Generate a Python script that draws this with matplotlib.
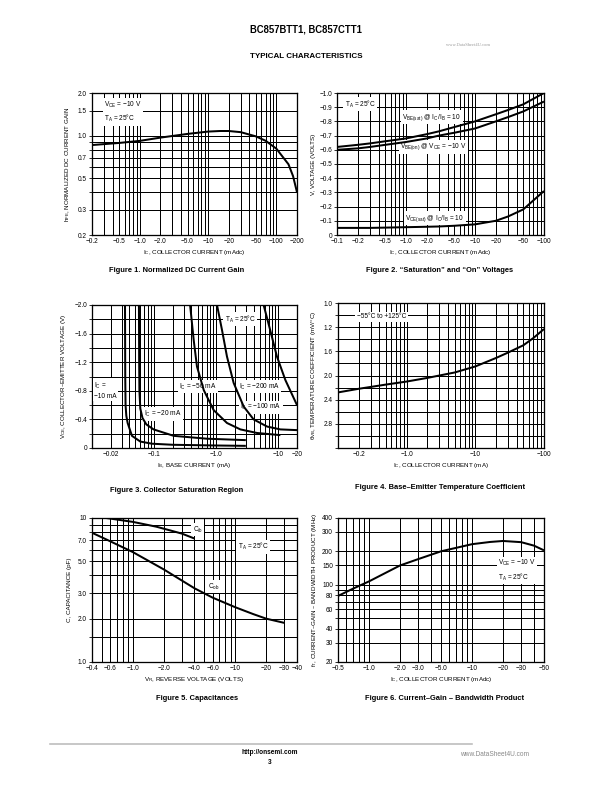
import matplotlib
matplotlib.use("Agg")
import matplotlib.pyplot as plt
from matplotlib.ticker import FixedLocator, NullFormatter

plt.rcParams['font.family'] = ['Liberation Sans Narrow', 'Liberation Sans', 'DejaVu Sans']
plt.rcParams['mathtext.default'] = 'regular'

# Figure 1: normalized DC current gain
fig1_ic = [0.2, 0.5, 1.0, 2.0, 5.0, 10, 15, 20, 30, 50, 70, 100, 150, 175, 200]
fig1_hfe = [0.86, 0.89, 0.92, 0.97, 1.03, 1.07, 1.08, 1.08, 1.06, 0.99, 0.92, 0.81, 0.63, 0.52, 0.40]

# Figure 2: saturation and on voltages (magnitudes, volts)
fig2_ic = [0.1, 0.2, 0.3, 0.5, 1.0, 2.0, 3.0, 5.0, 10, 20, 30, 50, 100]
fig2_vbe_sat = [0.62, 0.635, 0.645, 0.66, 0.68, 0.71, 0.73, 0.76, 0.80, 0.85, 0.88, 0.92, 1.0]
fig2_vbe_on = [0.60, 0.61, 0.62, 0.635, 0.655, 0.68, 0.70, 0.72, 0.75, 0.80, 0.83, 0.87, 0.94]
fig2_vce_sat = [0.05, 0.05, 0.05, 0.052, 0.055, 0.058, 0.06, 0.065, 0.075, 0.10, 0.13, 0.18, 0.31]

# Figure 3: collector saturation region (IB mA, VCE V)
fig3_ib_10 = [0.0340, 0.0343, 0.0347, 0.0357, 0.0375, 0.044, 0.060, 0.0925, 0.2, 1.0, 3.0]
fig3_vce_10 = [2.0, 1.0, 0.6, 0.45, 0.35, 0.17, 0.09, 0.06, 0.045, 0.035, 0.03]
fig3_ib_20 = [0.057, 0.0575, 0.058, 0.060, 0.065, 0.075, 0.098, 0.207, 0.71, 3.0]
fig3_vce_20 = [2.0, 1.2, 0.8, 0.55, 0.42, 0.33, 0.26, 0.17, 0.13, 0.11]
fig3_ib_50 = [0.38, 0.434, 0.49, 0.63, 0.91, 1.49, 2.45, 4.54, 10.8]
fig3_vce_50 = [2.0, 1.51, 1.14, 0.81, 0.53, 0.35, 0.26, 0.21, 0.18]
fig3_ib_100 = [1.03, 1.24, 1.49, 1.91, 2.77, 4.0, 6.6, 10.8, 20]
fig3_vce_100 = [2.0, 1.65, 1.28, 0.91, 0.58, 0.40, 0.30, 0.26, 0.25]
fig3_ib_200 = [5.8, 7.4, 9.5, 13, 20]
fig3_vce_200 = [2.0, 1.65, 1.28, 0.95, 0.60]

# Figure 4: base-emitter temperature coefficient (mV/°C)
fig4_ic = [0.1, 0.2, 0.5, 1.0, 2.0, 5.0, 10, 20, 30, 50, 70, 100]
fig4_theta = [2.28, 2.22, 2.15, 2.10, 2.04, 1.95, 1.85, 1.71, 1.62, 1.50, 1.38, 1.23]

# Figure 5: capacitances (pF)
fig5_vr_cib = [0.55, 1.0, 1.7, 3.0, 4.0]
fig5_cib = [10.0, 9.4, 8.7, 7.8, 7.2]
fig5_vr_cob = [0.4, 0.6, 1.0, 2.0, 4.0, 6.0, 10, 15, 20, 30]
fig5_cob = [7.9, 6.9, 5.8, 4.4, 3.25, 2.8, 2.4, 2.15, 2.0, 1.87]

# Figure 6: current-gain bandwidth product (MHz)
fig6_ic = [0.5, 0.7, 1.0, 2.0, 3.0, 5.0, 10, 15, 20, 30, 40, 50]
fig6_ft = [79, 92, 107, 149, 170, 200, 232, 243, 248, 242, 225, 204]

W, H = 612, 792
fig = plt.figure(figsize=(W / 72, H / 72), dpi=72)

TICK_FS = 6.5
LAB_FS = 6.3
ANN_FS = 6.5


def log_lines(lo, hi):
    vals = []
    for e in range(-3, 4):
        for m in range(1, 10):
            v = round(m * 10 ** e, 6)
            if lo * 0.999 <= v <= hi * 1.001:
                vals.append(v)
    return vals


def make_axes(l, t, r, b):
    return fig.add_axes([l / W, 1 - b / H, (r - l) / W, (b - t) / H])


def style(ax, xlim, ylim, xt, xl, yt, yl, xgrid, ygrid, ylog=False):
    ax.set_xscale('log')
    if ylog:
        ax.set_yscale('log')
    ax.set_xlim(*xlim)
    ax.set_ylim(*ylim)
    ax.xaxis.set_major_locator(FixedLocator(xt))
    ax.set_xticklabels(xl)
    ax.yaxis.set_major_locator(FixedLocator(yt))
    ax.set_yticklabels(yl)
    ax.xaxis.set_minor_locator(FixedLocator(xgrid))
    ax.yaxis.set_minor_locator(FixedLocator(ygrid))
    ax.xaxis.set_minor_formatter(NullFormatter())
    ax.yaxis.set_minor_formatter(NullFormatter())
    for v in xgrid:
        ax.axvline(v, color='black', lw=1.0, zorder=1, snap=True)
    for v in ygrid:
        ax.axhline(v, color='black', lw=1.0, zorder=1, snap=True)
    ax.tick_params(axis='x', which='both', length=0, pad=3, labelsize=TICK_FS)
    ax.tick_params(axis='y', which='both', direction='out', length=3, width=0.8,
                   pad=2, labelsize=TICK_FS)
    for s in ax.spines.values():
        s.set_linewidth(1.3)
        s.set_zorder(3)


def note(ax, x, y, s, ha='center'):
    ax.text(x, y, s, fontsize=ANN_FS, ha=ha, va='center', zorder=4, linespacing=1.4,
            bbox=dict(facecolor='white', edgecolor='none', pad=1.5))


def neg(vals):
    return ['0' if v == '0' else '\u2212' + v for v in vals]


CURVE = dict(color='black', lw=2.0, zorder=5, solid_capstyle='butt')

# ---------------- Figure 1 ----------------
ax1 = make_axes(92, 93, 297, 235)
style(ax1, (0.2, 200), (0.2, 2.0),
      [0.2, 0.5, 1, 2, 5, 10, 20, 50, 100, 200],
      neg(['0.2', '0.5', '1.0', '2.0', '5.0', '10', '20', '50', '100', '200']),
      [0.2, 0.3, 0.5, 0.7, 1.0, 1.5, 2.0],
      ['0.2', '0.3', '0.5', '0.7', '1.0', '1.5', '2.0'],
      log_lines(0.2, 200), [0.2, 0.3, 0.4, 0.5, 0.6, 0.7, 0.8, 0.9, 1.0, 1.5, 2.0],
      ylog=True)
ax1.plot(fig1_ic, fig1_hfe, **CURVE)
note(ax1, 0.3, 1.47, 'V$_{CE}$ = \u221210 V\nT$_A$ = 25\u00b0C', ha='left')
ax1.set_xlabel('I$_C$, COLLECTOR CURRENT (mAdc)', fontsize=LAB_FS, labelpad=3)
ax1.set_ylabel('h$_{FE}$, NORMALIZED DC CURRENT GAIN', fontsize=LAB_FS, labelpad=6)

# ---------------- Figure 2 ----------------
ax2 = make_axes(337, 93, 544, 235)
y2 = [round(0.1 * i, 1) for i in range(11)]
style(ax2, (0.1, 100), (0, 1.0),
      [0.1, 0.2, 0.5, 1, 2, 5, 10, 20, 50, 100],
      neg(['0.1', '0.2', '0.5', '1.0', '2.0', '5.0', '10', '20', '50', '100']),
      y2, neg(['0'] + ['%.1f' % v for v in y2[1:]]),
      log_lines(0.1, 100), y2)
ax2.plot(fig2_ic, fig2_vbe_sat, **CURVE)
ax2.plot(fig2_ic, fig2_vbe_on, **CURVE)
ax2.plot(fig2_ic, fig2_vce_sat, **CURVE)
note(ax2, 0.13, 0.92, 'T$_A$ = 25\u00b0C', ha='left')
note(ax2, 2.36, 0.83, 'V$_{BE(sat)}$ @ I$_C$/I$_B$ = 10')
note(ax2, 2.5, 0.62, 'V$_{BE(on)}$ @ V$_{CE}$ = \u221210 V')
note(ax2, 2.6, 0.118, 'V$_{CE(sat)}$ @ I$_C$/I$_B$ = 10')
ax2.set_xlabel('I$_C$, COLLECTOR CURRENT (mAdc)', fontsize=LAB_FS, labelpad=3)
ax2.set_ylabel('V, VOLTAGE (VOLTS)', fontsize=LAB_FS, labelpad=3)

# ---------------- Figure 3 ----------------
ax3 = make_axes(92, 305, 297, 448)
y3 = [round(0.2 * i, 1) for i in range(11)]
style(ax3, (0.01, 20), (0, 2.0),
      [0.02, 0.1, 1.0, 10, 20], neg(['0.02', '0.1', '1.0', '10', '20']),
      [0, 0.4, 0.8, 1.2, 1.6, 2.0], neg(['0', '0.4', '0.8', '1.2', '1.6', '2.0']),
      log_lines(0.01, 20), y3)
ax3.plot(fig3_ib_10, fig3_vce_10, **CURVE)
ax3.plot(fig3_ib_20, fig3_vce_20, **CURVE)
ax3.plot(fig3_ib_50, fig3_vce_50, **CURVE)
ax3.plot(fig3_ib_100, fig3_vce_100, **CURVE)
ax3.plot(fig3_ib_200, fig3_vce_200, **CURVE)
note(ax3, 2.42, 1.80, 'T$_A$ = 25\u00b0C')
note(ax3, 0.0108, 0.81, 'I$_C$ =\n\u221210 mA', ha='left')
note(ax3, 0.137, 0.475, 'I$_C$ = \u221220 mA')
note(ax3, 0.51, 0.857, 'I$_C$ = \u221250 mA')
note(ax3, 4.96, 0.857, 'I$_C$ = \u2212200 mA')
note(ax3, 5.26, 0.57, 'I$_C$ = \u2212100 mA')
ax3.set_xlabel('I$_B$, BASE CURRENT (mA)', fontsize=LAB_FS, labelpad=3)
ax3.set_ylabel('V$_{CE}$, COLLECTOR\u2013EMITTER VOLTAGE (V)', fontsize=LAB_FS, labelpad=6)

# ---------------- Figure 4 ----------------
ax4 = make_axes(338, 303, 544, 448)
y4 = [round(0.8 + 0.2 * i, 1) for i in range(13)]
style(ax4, (0.1, 100), (3.2, 0.8),
      [0.2, 1.0, 10, 100], neg(['0.2', '1.0', '10', '100']),
      [0.8, 1.2, 1.6, 2.0, 2.4, 2.8], ['1.0', '1.2', '1.6', '2.0', '2.4', '2.8'],
      log_lines(0.1, 100), y4)
ax4.plot(fig4_ic, fig4_theta, **CURVE)
note(ax4, 0.43, 1.03, '\u221255\u00b0C to +125\u00b0C')
ax4.set_xlabel('I$_C$, COLLECTOR CURRENT (mA)', fontsize=LAB_FS, labelpad=3)
ax4.set_ylabel('\u03b8$_{VB}$, TEMPERATURE COEFFICIENT (mV/\u00b0C)', fontsize=LAB_FS, labelpad=6)

# ---------------- Figure 5 ----------------
ax5 = make_axes(92, 518, 297, 662)
style(ax5, (0.4, 40), (1.0, 10),
      [0.4, 0.6, 1.0, 2.0, 4.0, 6.0, 10, 20, 30, 40],
      neg(['0.4', '0.6', '1.0', '2.0', '4.0', '6.0', '10', '20', '30', '40']),
      [1.0, 2.0, 3.0, 5.0, 7.0, 10], ['1.0', '2.0', '3.0', '5.0', '7.0', '10'],
      log_lines(0.4, 40), [1.5, 2, 3, 4, 5, 6, 7, 8, 9, 10], ylog=True)
ax5.plot(fig5_vr_cib, fig5_cib, **CURVE)
ax5.plot(fig5_vr_cob, fig5_cob, **CURVE)
note(ax5, 4.3, 8.3, 'C$_{ib}$')
note(ax5, 15, 6.3, 'T$_A$ = 25\u00b0C')
note(ax5, 6.1, 3.33, 'C$_{ob}$')
ax5.set_xlabel('V$_R$, REVERSE VOLTAGE (VOLTS)', fontsize=LAB_FS, labelpad=3)
ax5.set_ylabel('C, CAPACITANCE (pF)', fontsize=LAB_FS, labelpad=6)

# ---------------- Figure 6 ----------------
ax6 = make_axes(338, 518, 544, 662)
style(ax6, (0.5, 50), (20, 400),
      [0.5, 1.0, 2.0, 3.0, 5.0, 10, 20, 30, 50],
      neg(['0.5', '1.0', '2.0', '3.0', '5.0', '10', '20', '30', '50']),
      [20, 30, 40, 60, 80, 100, 150, 200, 300, 400],
      ['20', '30', '40', '60', '80', '100', '150', '200', '300', '400'],
      log_lines(0.5, 50), [20, 30, 40, 50, 60, 70, 80, 90, 100, 150, 200, 300, 400],
      ylog=True)
ax6.plot(fig6_ic, fig6_ft, **CURVE)
note(ax6, 18, 134, 'V$_{CE}$ = \u221210 V\nT$_A$ = 25\u00b0C', ha='left')
ax6.set_xlabel('I$_C$, COLLECTOR CURRENT (mAdc)', fontsize=LAB_FS, labelpad=3)
ax6.set_ylabel('f$_T$, CURRENT\u2013GAIN \u2013 BANDWIDTH PRODUCT (MHz)', fontsize=LAB_FS, labelpad=3)


# ---------------- page text ----------------
def page_text(x, y, s, **kw):
    fig.text(x / W, 1 - y / H, s, ha='center', va='center', **kw)


page_text(306, 30, 'BC857BTT1, BC857CTT1', fontsize=9.5, fontweight='bold',
          family=['Liberation Sans', 'DejaVu Sans'])
page_text(306, 57, 'TYPICAL CHARACTERISTICS', fontsize=8, fontweight='bold',
          family=['Liberation Sans', 'DejaVu Sans'])
page_text(468, 45, 'www.DataSheet4U.com', fontsize=4.5, color='#999999',
          family=['Liberation Serif', 'DejaVu Serif'])

cap = dict(fontsize=7.5, fontweight='bold', family=['Liberation Sans', 'DejaVu Sans'])
page_text(177, 271, 'Figure 1. Normalized DC Current Gain', **cap)
page_text(440, 271, 'Figure 2. \u201cSaturation\u201d and \u201cOn\u201d Voltages', **cap)
page_text(177, 490, 'Figure 3. Collector Saturation Region', **cap)
page_text(440, 487, 'Figure 4. Base\u2013Emitter Temperature Coefficient', **cap)
page_text(197, 698, 'Figure 5. Capacitances', **cap)
page_text(445, 698, 'Figure 6. Current\u2013Gain \u2013 Bandwidth Product', **cap)

fig.add_artist(plt.Line2D([50 / W, 472 / W], [1 - 744 / H, 1 - 744 / H],
                          color='#bbbbbb', lw=1.6))
page_text(270, 752, 'http://onsemi.com', fontsize=6.5, fontweight='bold',
          family=['Liberation Sans', 'DejaVu Sans'])
page_text(270, 762, '3', fontsize=6.5, fontweight='bold',
          family=['Liberation Sans', 'DejaVu Sans'])
page_text(495, 755, 'www.DataSheet4U.com', fontsize=6.5, color='#888888',
          family=['Liberation Sans', 'DejaVu Sans'])

fig.savefig('out.png', dpi=72)
